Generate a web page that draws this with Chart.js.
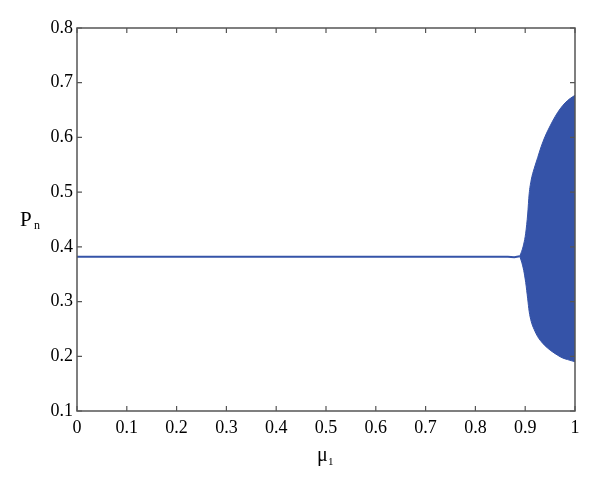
<!DOCTYPE html>
<html>
<head>
<meta charset="utf-8">
<script src="https://cdn.jsdelivr.net/npm/chart.js@4/dist/chart.umd.min.js"></script>
<style>
  body { margin: 0; background: #fff; }
</style>
</head>
<body>
<canvas id="c" width="600" height="482"></canvas>
<script>
// fixed point branch (mu_1 < ~0.89)
const muFixed = [0, 0.865, 0.878, 0.889];
const pFixed = [0.382, 0.382, 0.381, 0.383];

// envelope of the chaotic band
const muUpper = [0.889, 0.893, 0.897, 0.901, 0.905, 0.908, 0.912, 0.918, 0.925, 0.932, 0.940, 0.950, 0.960, 0.970, 0.980, 0.990, 1.000];
const pUpper  = [0.383, 0.392, 0.405, 0.425, 0.460, 0.497, 0.522, 0.543, 0.563, 0.583, 0.602, 0.621, 0.638, 0.652, 0.663, 0.671, 0.677];
const muLower = [0.889, 0.893, 0.897, 0.901, 0.905, 0.908, 0.912, 0.918, 0.925, 0.935, 0.945, 0.955, 0.965, 0.975, 0.985, 1.000];
const pLower  = [0.383, 0.372, 0.357, 0.335, 0.305, 0.282, 0.264, 0.249, 0.236, 0.224, 0.215, 0.208, 0.202, 0.197, 0.194, 0.190];

const xTicks = [0, 0.1, 0.2, 0.3, 0.4, 0.5, 0.6, 0.7, 0.8, 0.9, 1];
const yTicks = [0.1, 0.2, 0.3, 0.4, 0.5, 0.6, 0.7, 0.8];

const blue = '#3553a8';
const axisCol = '#555';
const font = "'Liberation Serif', 'DejaVu Serif', serif";

function pts(xs, ys) { return xs.map((x, i) => ({x: x, y: ys[i]})); }

const frame = {
  id: 'frame',
  afterDraw(chart) {
    const ctx = chart.ctx, a = chart.chartArea;
    const sx = chart.scales.x, sy = chart.scales.y;
    ctx.save();
    ctx.strokeStyle = axisCol;
    ctx.lineWidth = 1.5;
    ctx.strokeRect(a.left, a.top, a.right - a.left, a.bottom - a.top);
    ctx.lineWidth = 1.2;
    ctx.beginPath();
    xTicks.forEach(v => {
      const px = sx.getPixelForValue(v);
      ctx.moveTo(px, a.bottom); ctx.lineTo(px, a.bottom - 5);
      ctx.moveTo(px, a.top); ctx.lineTo(px, a.top + 5);
    });
    yTicks.forEach(v => {
      const py = sy.getPixelForValue(v);
      ctx.moveTo(a.left, py); ctx.lineTo(a.left + 5, py);
      ctx.moveTo(a.right, py); ctx.lineTo(a.right - 5, py);
    });
    ctx.stroke();

    // axis titles, with small subscripts
    ctx.fillStyle = '#000';
    ctx.textBaseline = 'alphabetic';
    ctx.textAlign = 'left';
    ctx.font = '21px ' + font;
    ctx.fillText('P', 20, 226);
    ctx.font = '12px ' + font;
    ctx.fillText('n', 34, 229);

    const cx = (a.left + a.right) / 2 - 9;
    ctx.font = '20px ' + font;
    ctx.fillText('μ', cx, 461);
    ctx.font = '11px ' + font;
    ctx.fillText('1', cx + 11, 465);
    ctx.restore();
  }
};

new Chart(document.getElementById('c'), {
  type: 'scatter',
  data: {
    datasets: [
      {data: pts(muFixed, pFixed), showLine: true, borderColor: blue, borderWidth: 2, pointRadius: 0, fill: false},
      {data: pts(muUpper, pUpper), showLine: true, borderColor: blue, borderWidth: 1, pointRadius: 0, backgroundColor: blue, fill: '+1', cubicInterpolationMode: 'monotone'},
      {data: pts(muLower, pLower), showLine: true, borderColor: blue, borderWidth: 1, pointRadius: 0, fill: false, cubicInterpolationMode: 'monotone'}
    ]
  },
  options: {
    responsive: false,
    animation: false,
    layout: {padding: {top: 28, right: 25, left: 0, bottom: 0}},
    plugins: {legend: {display: false}, tooltip: {enabled: false}},
    scales: {
      x: {
        type: 'linear', min: 0, max: 1,
        afterFit: s => { s.height = 71; },
        afterBuildTicks: s => { s.ticks = xTicks.map(v => ({value: v})); },
        grid: {display: false, drawTicks: false},
        border: {display: false},
        ticks: {padding: 6, color: '#000', font: {family: font, size: 18}, callback: v => String(+v.toFixed(1))}
      },
      y: {
        type: 'linear', min: 0.1, max: 0.8,
        afterFit: s => { s.width = 77; },
        afterBuildTicks: s => { s.ticks = yTicks.map(v => ({value: v})); },
        grid: {display: false, drawTicks: false},
        border: {display: false},
        ticks: {padding: 4, color: '#000', font: {family: font, size: 18}, callback: v => v.toFixed(1)}
      }
    }
  },
  plugins: [frame]
});
</script>
</body>
</html>
